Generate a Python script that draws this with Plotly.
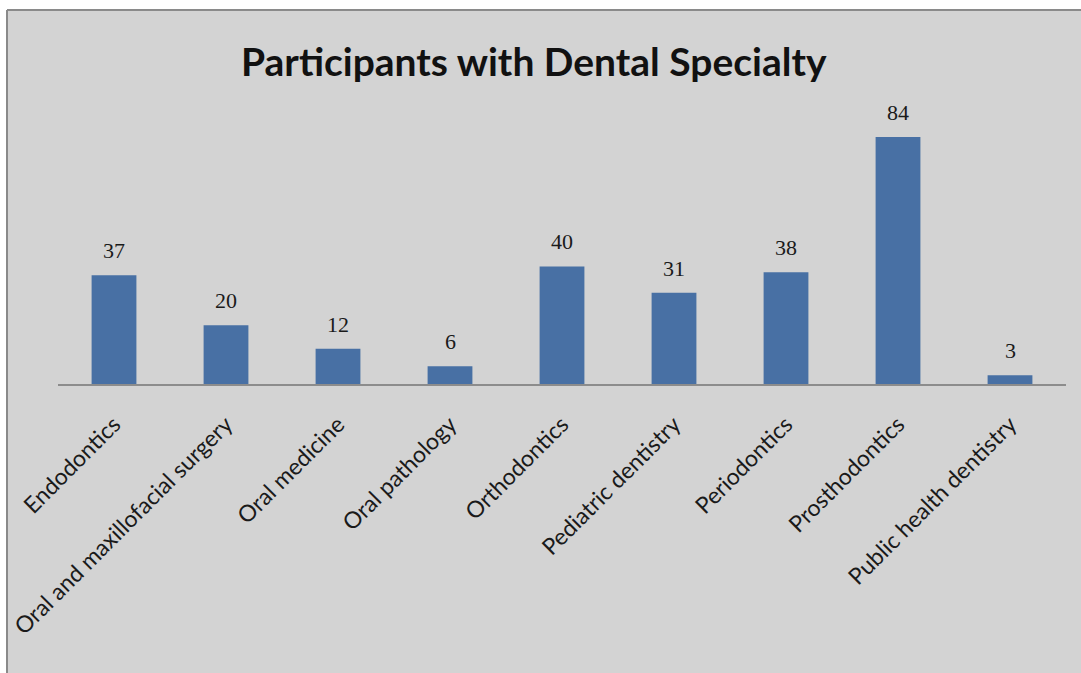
import plotly.graph_objects as go

specialties = [
    "Endodontics",
    "Oral and maxillofacial surgery",
    "Oral medicine",
    "Oral pathology",
    "Orthodontics",
    "Pediatric dentistry",
    "Periodontics",
    "Prosthodontics",
    "Public health dentistry",
]
participants = [37, 20, 12, 6, 40, 31, 38, 84, 3]

W, H = 1081, 673
ML, MR, MT, MB = 58, 15, 100, 289
plot_w = W - ML - MR
plot_h = H - MT - MB

def px_to_paper_x(px):
    return (px - ML) / plot_w

def px_to_paper_y(py):
    return (H - MB - py) / plot_h

fig = go.Figure()
fig.add_trace(go.Bar(
    x=specialties,
    y=participants,
    marker=dict(color="#4870a4", line=dict(width=0)),
    width=0.4,
    showlegend=False,
    hoverinfo="x+y",
))

# value labels above each bar
for name, val in zip(specialties, participants):
    fig.add_annotation(
        x=name, y=val, text=str(val), showarrow=False,
        yanchor="bottom", yshift=10,
        font=dict(family="Liberation Serif, DejaVu Serif, serif", size=22, color="#1a1a1a"),
    )

# grey chart area, kept inside the canvas
fig.add_shape(
    type="rect", xref="paper", yref="paper", layer="below",
    x0=px_to_paper_x(7), x1=px_to_paper_x(W),
    y0=px_to_paper_y(H), y1=px_to_paper_y(10),
    fillcolor="#d3d3d3", line=dict(width=0),
)
# frame edges (left and top)
fig.add_shape(
    type="line", xref="paper", yref="paper", layer="below",
    x0=px_to_paper_x(7), x1=px_to_paper_x(W),
    y0=px_to_paper_y(10), y1=px_to_paper_y(10),
    line=dict(color="#8a8a8a", width=2),
)
fig.add_shape(
    type="line", xref="paper", yref="paper", layer="below",
    x0=px_to_paper_x(7), x1=px_to_paper_x(7),
    y0=px_to_paper_y(10), y1=px_to_paper_y(H),
    line=dict(color="#8a8a8a", width=2),
)

fig.add_annotation(
    text="<b>Participants with Dental Specialty</b>",
    xref="paper", yref="paper",
    x=px_to_paper_x(534), y=px_to_paper_y(61),
    xanchor="center", yanchor="middle", showarrow=False,
    font=dict(family="Lato, Open Sans, sans-serif", size=39, color="#111111"),
)

fig.update_layout(
    width=W, height=H,
    margin=dict(l=ML, r=MR, t=MT, b=MB, autoexpand=False),
    paper_bgcolor="white",
    plot_bgcolor="rgba(0,0,0,0)",
    xaxis=dict(
        showline=True, linecolor="#8c8c8c", linewidth=2,
        tickangle=-45, showgrid=False, ticks="",
        ticklabelstandoff=16, automargin=False,
        tickfont=dict(family="Lato, Open Sans, sans-serif", size=23, color="#1a1a1a"),
        fixedrange=True,
    ),
    yaxis=dict(
        range=[0, plot_h / 2.94], visible=False, showgrid=False, zeroline=False,
        fixedrange=True,
    ),
)

fig.write_html("out.html")
